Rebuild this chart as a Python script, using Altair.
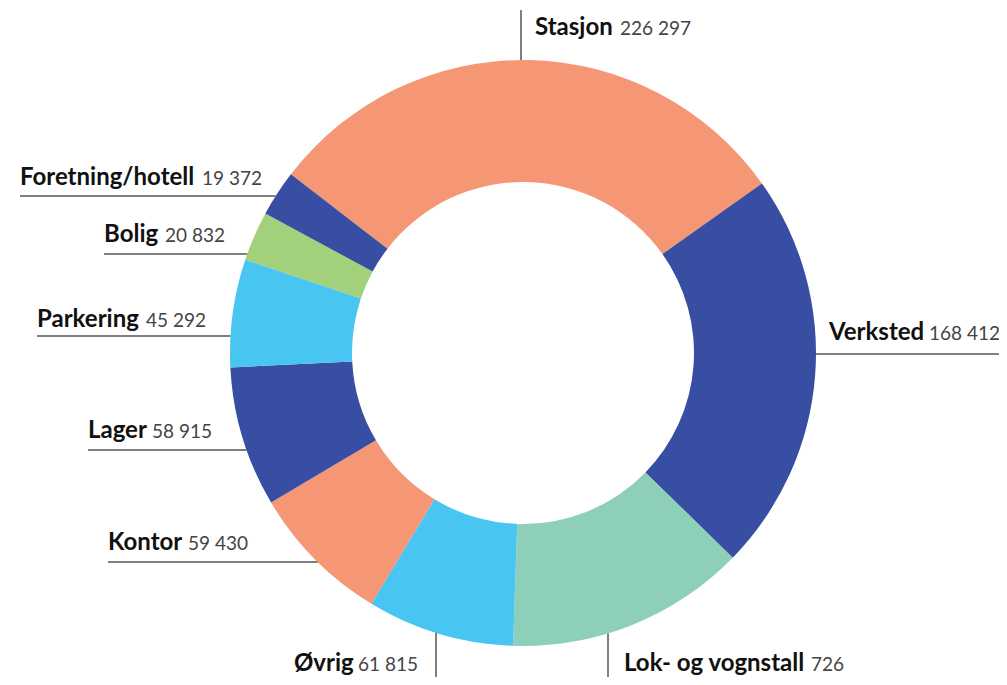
import math
import altair as alt
import pandas as pd

# ---- data ----
categories = ["Stasjon", "Verksted", "Lok- og vognstall", "Øvrig", "Kontor",
              "Lager", "Parkering", "Bolig", "Foretning/hotell"]
values = [226297, 168412, 100726, 61815, 59430, 58915, 45292, 20832, 19372]
value_labels = ["226 297", "168 412", "726", "61 815", "59 430",
                "58 915", "45 292", "20 832", "19 372"]
colors = ["#F59774", "#374EA2", "#8ECFB9", "#48C5F1", "#F59774",
          "#374EA2", "#48C5F1", "#A2D07B", "#374EA2"]

# ---- layout (page pixel coordinates) ----
W, H = 991, 669
CX, CY = 523, 353          # donut centre
R_OUT, R_IN = 293, 171
START_DEG = -52.4

# label anchor: name x, number x, baseline y, leader type, leader pos
label_layout = {
    "Stasjon":           (535, 620, 35,  "v", 521),
    "Verksted":          (829, 929, 340, "hr", 354),
    "Lok- og vognstall": (624, 811, 671, "v", 608),
    "Øvrig":             (294, 358, 671, "v", 436),
    "Kontor":            (108, 188, 550, "hl", 562),
    "Lager":             (88, 152, 438,  "hl", 450),
    "Parkering":         (37, 146, 327,  "hl", 336),
    "Bolig":             (104, 165, 242, "hl", 254),
    "Foretning/hotell":  (20, 202, 185,  "hl", 196),
}

arc_df = pd.DataFrame({"cat": categories, "value": values,
                       "idx": list(range(len(categories)))})

start = math.radians(START_DEG)
arc = alt.Chart(arc_df).mark_arc(outerRadius=R_OUT, innerRadius=R_IN, stroke=None).encode(
    theta=alt.Theta("value:Q", stack=True,
                    scale=alt.Scale(range=[start, start + 2 * math.pi])),
    order=alt.Order("idx:Q"),
    color=alt.Color("cat:N", scale=alt.Scale(domain=categories, range=colors), legend=None),
    x=alt.value(CX - 8),
    y=alt.value(CY - 8),
)

rows_txt, rows_rule = [], []
for cat, lab in zip(categories, value_labels):
    nx, vx, by, kind, pos = label_layout[cat]
    rows_txt.append({"name": cat, "num": lab, "nx": nx, "vx": vx, "by": by})
    if kind == "v":
        x = pos
        dy = math.sqrt(R_OUT ** 2 - (x - CX) ** 2)
        if by < CY:
            rows_rule.append({"x": x, "x2": x, "y": 10, "y2": CY - dy})
        else:
            rows_rule.append({"x": x, "x2": x, "y": CY + dy, "y2": 8 + H})
    elif kind == "hl":
        y = pos
        dx = math.sqrt(R_OUT ** 2 - (y - CY) ** 2)
        rows_rule.append({"x": nx, "x2": CX - dx, "y": y, "y2": y})
    else:
        y = pos
        dx = math.sqrt(R_OUT ** 2 - (y - CY) ** 2)
        rows_rule.append({"x": CX + dx, "x2": 8 + W, "y": y, "y2": y})

txt_df = pd.DataFrame(rows_txt)
rule_df = pd.DataFrame(rows_rule)

xs = alt.Scale(domain=[8, 8 + W], range=[0, W])
ys = alt.Scale(domain=[8, 8 + H], range=[0, H])

rules = alt.Chart(rule_df).mark_rule(color="#555555", strokeWidth=1.5).encode(
    x=alt.X("x:Q", scale=xs, axis=None),
    x2="x2:Q",
    y=alt.Y("y:Q", scale=ys, axis=None),
    y2="y2:Q",
)

names = alt.Chart(txt_df).mark_text(
    font="Lato", fontSize=24, fontWeight="bold", color="#111111",
    align="left", baseline="alphabetic"
).encode(
    x=alt.X("nx:Q", scale=xs, axis=None),
    y=alt.Y("by:Q", scale=ys, axis=None),
    text="name:N",
)

nums = alt.Chart(txt_df).mark_text(
    font="Lato", fontSize=19, fontWeight="normal", color="#444444",
    align="left", baseline="alphabetic"
).encode(
    x=alt.X("vx:Q", scale=xs, axis=None),
    y=alt.Y("by:Q", scale=ys, axis=None),
    text="num:N",
)

chart = alt.layer(arc, rules, names, nums).resolve_scale(
    x="shared", y="shared"
).properties(
    width=W, height=H, autosize=alt.AutoSizeParams(type="none"), padding=0
).configure_view(stroke=None)

chart.save("out.html", embed_options={"renderer": "svg", "actions": False})
